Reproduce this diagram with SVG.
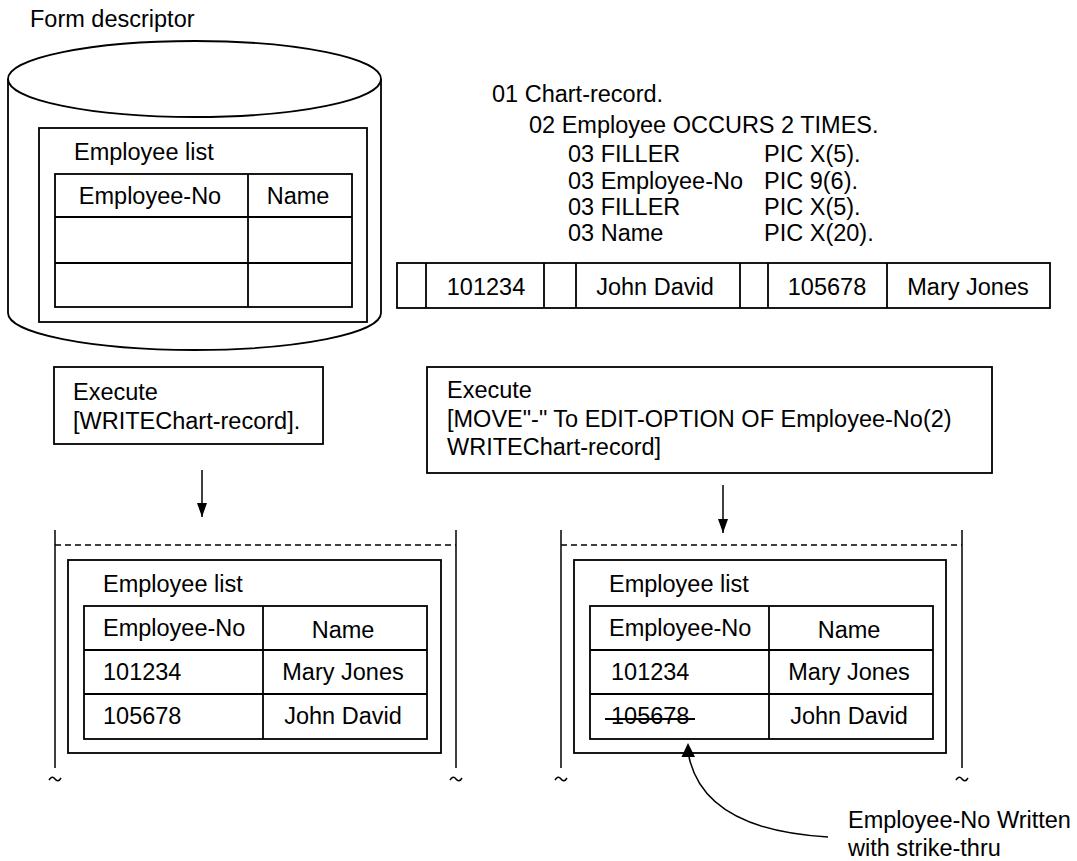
<svg xmlns="http://www.w3.org/2000/svg" width="1077" height="861" viewBox="0 0 1077 861">
<defs>
<style>
text{font-family:"Liberation Sans",Arial,sans-serif;font-size:23.5px;fill:#000}
.c{text-anchor:middle}
.ln{fill:none;stroke:#000;stroke-width:1.8}
.th{fill:none;stroke:#000;stroke-width:1.5}
.dash{fill:none;stroke:#000;stroke-width:1.5;stroke-dasharray:6 4}
</style>
<marker id="ah" viewBox="0 0 14 10" refX="14" refY="5" markerWidth="14" markerHeight="10" markerUnits="userSpaceOnUse" orient="auto">
<path d="M0 0 L14 5 L0 10 Z" fill="#000"/>
</marker>
</defs>
<rect width="1077" height="861" fill="#fff"/>

<g id="form-descriptor">
<text x="30" y="27">Form descriptor</text>
<path class="ln" d="M8 79 L8 313 A186.5 37 0 0 0 381 313 L381 79"/>
<ellipse class="ln" cx="194.5" cy="79" rx="186.5" ry="38" fill="#fff"/>
<rect class="ln" x="39" y="128" width="328" height="194"/>
<text x="74" y="160">Employee list</text>
<rect class="ln" x="55" y="174" width="297" height="133"/>
<line class="ln" x1="55" y1="217" x2="352" y2="217"/>
<line class="ln" x1="55" y1="263" x2="352" y2="263"/>
<line class="ln" x1="248" y1="174" x2="248" y2="307"/>
<text class="c" x="150" y="204">Employee-No</text>
<text class="c" x="298" y="204">Name</text>
</g>

<g id="record-definition">
<text x="492" y="102">01 Chart-record.</text>
<text x="529" y="133">02 Employee OCCURS 2 TIMES.</text>
<text x="568" y="162">03 FILLER</text>
<text x="764" y="162">PIC X(5).</text>
<text x="568" y="189">03 Employee-No</text>
<text x="764" y="189">PIC 9(6).</text>
<text x="568" y="215">03 FILLER</text>
<text x="764" y="215">PIC X(5).</text>
<text x="568" y="241">03 Name</text>
<text x="764" y="241">PIC X(20).</text>
</g>

<g id="record-data">
<rect class="ln" x="397" y="263" width="653" height="45"/>
<line class="ln" x1="426" y1="263" x2="426" y2="308"/>
<line class="ln" x1="544" y1="263" x2="544" y2="308"/>
<line class="ln" x1="576" y1="263" x2="576" y2="308"/>
<line class="ln" x1="740" y1="263" x2="740" y2="308"/>
<line class="ln" x1="768" y1="263" x2="768" y2="308"/>
<line class="ln" x1="887" y1="263" x2="887" y2="308"/>
<text class="c" x="486" y="295">101234</text>
<text class="c" x="655" y="295">John David</text>
<text class="c" x="827" y="295">105678</text>
<text class="c" x="968" y="295">Mary Jones</text>
</g>

<g id="execute-1">
<rect class="ln" x="54" y="367" width="269" height="77"/>
<text x="73" y="400">Execute</text>
<text x="73" y="429">[WRITEChart-record].</text>
</g>

<g id="execute-2">
<rect class="ln" x="427" y="367" width="565" height="106"/>
<text x="447" y="398">Execute</text>
<text x="447" y="427">[MOVE"-" To EDIT-OPTION OF Employee-No(2)</text>
<text x="447" y="455">WRITEChart-record]</text>
</g>

<g id="output-1">
<line class="th" x1="55" y1="530" x2="55" y2="768"/>
<line class="th" x1="456" y1="530" x2="456" y2="768"/>
<line class="dash" x1="55" y1="545" x2="456" y2="545"/>
<path class="th" d="M49 780 q3 -5 6 -1 t6 -1"/>
<path class="th" d="M450 780 q3 -5 6 -1 t6 -1"/>
<rect class="ln" x="68" y="560" width="373" height="193"/>
<text x="103" y="592">Employee list</text>
<rect class="ln" x="84" y="606" width="343" height="133"/>
<line class="ln" x1="84" y1="650" x2="427" y2="650"/>
<line class="ln" x1="84" y1="694" x2="427" y2="694"/>
<line class="ln" x1="263" y1="606" x2="263" y2="739"/>
<text x="103" y="636">Employee-No</text>
<text class="c" x="343" y="638">Name</text>
<text x="103" y="680">101234</text>
<text class="c" x="343" y="680">Mary Jones</text>
<text x="103" y="724">105678</text>
<text class="c" x="343" y="724">John David</text>
</g>

<g id="output-2">
<line class="th" x1="561" y1="530" x2="561" y2="768"/>
<line class="th" x1="962" y1="530" x2="962" y2="768"/>
<line class="dash" x1="561" y1="545" x2="962" y2="545"/>
<path class="th" d="M555 780 q3 -5 6 -1 t6 -1"/>
<path class="th" d="M956 780 q3 -5 6 -1 t6 -1"/>
<rect class="ln" x="574" y="560" width="372" height="193"/>
<text x="609" y="592">Employee list</text>
<rect class="ln" x="590" y="606" width="343" height="133"/>
<line class="ln" x1="590" y1="650" x2="933" y2="650"/>
<line class="ln" x1="590" y1="694" x2="933" y2="694"/>
<line class="ln" x1="769" y1="606" x2="769" y2="739"/>
<text x="609" y="636">Employee-No</text>
<text class="c" x="849" y="638">Name</text>
<text x="611" y="680">101234</text>
<text class="c" x="849" y="680">Mary Jones</text>
<text x="611" y="724">105678</text>
<line x1="605" y1="719" x2="695" y2="719" stroke="#000" stroke-width="1.8"/>
<text class="c" x="849" y="724">John David</text>
</g>

<g id="note">
<text x="848" y="828">Employee-No Written</text>
<text x="848" y="856">with strike-thru</text>
</g>

<g id="connectors">
<line class="th" x1="202" y1="470" x2="202" y2="517" marker-end="url(#ah)"/>
<line class="th" x1="723" y1="485" x2="723" y2="533" marker-end="url(#ah)"/>
<path class="th" d="M828 837 Q705 830 689 757"/>
<path d="M688 743 L681.5 757 L695 757 Z" fill="#000"/>
</g>
</svg>
